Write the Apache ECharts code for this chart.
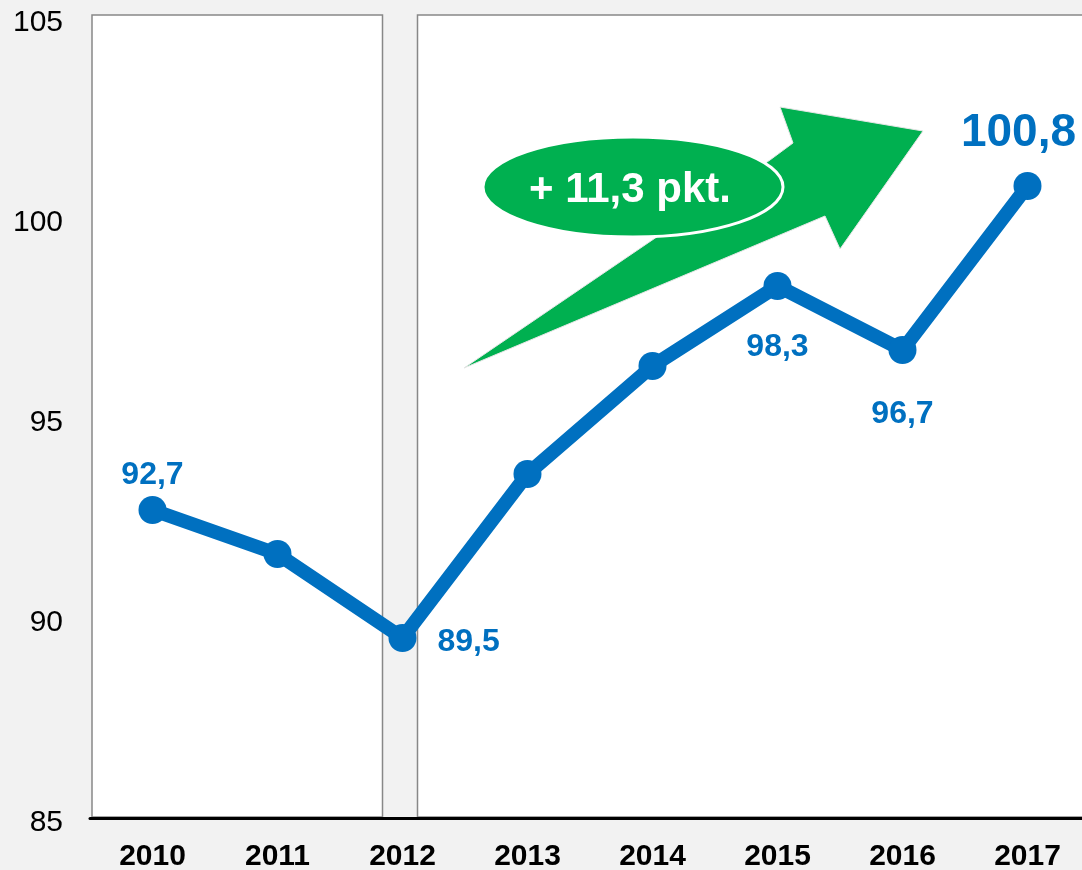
<!DOCTYPE html>
<html>
<head>
<meta charset="utf-8">
<script src="https://cdn.jsdelivr.net/npm/echarts@6/dist/echarts.min.js"></script>
<style>
html,body{margin:0;padding:0;background:#f2f2f2;}
#c{width:1082px;height:870px;}
</style>
</head>
<body>
<div id="c"></div>
<script>
const years = ['2010','2011','2012','2013','2014','2015','2016','2017'];
const values = [92.7, 91.6, 89.5, 93.6, 96.3, 98.3, 96.7, 100.8];
const yTicks = [85, 90, 95, 100, 105];
const annotationText = '+ 11,3 pkt.';

const FONT = '"Liberation Sans", Arial, sans-serif';
const BLUE = '#0070c0';
const GREEN = '#00b050';

const labelCfg = {
  '2010': {show: true, position: 'top', distance: 5, fontSize: 32},
  '2012': {show: true, position: 'right', distance: 21, fontSize: 32, offset: [0, 4]},
  '2015': {show: true, position: 'bottom', distance: 31, fontSize: 32},
  '2016': {show: true, position: 'bottom', distance: 34, fontSize: 32},
  '2017': {show: true, position: 'top', distance: 16, fontSize: 46, offset: [-9, 0]}
};

const seriesData = values.map((v, i) => {
  const cfg = labelCfg[years[i]];
  return {value: v, label: cfg ? Object.assign({}, cfg) : {show: false}};
});

const chart = echarts.init(document.getElementById('c'), null, {renderer: 'canvas'});

const option = {
  backgroundColor: '#f2f2f2',
  animation: false,
  grid: {left: 90, width: 1000, top: 18, bottom: 52, containLabel: false, outerBoundsMode: 'none'},
  xAxis: {
    type: 'category',
    data: years,
    boundaryGap: true,
    axisLine: {show: true, lineStyle: {color: '#000', width: 3}},
    axisTick: {show: false},
    axisLabel: {color: '#000', fontFamily: FONT, fontSize: 30, fontWeight: 'bold', margin: 24},
    splitLine: {show: false}
  },
  yAxis: {
    type: 'value',
    min: yTicks[0],
    max: yTicks[yTicks.length - 1],
    interval: 5,
    axisLine: {show: false},
    axisTick: {show: false},
    splitLine: {show: false},
    axisLabel: {
      color: '#000', fontFamily: FONT, fontSize: 30, margin: 27,
      formatter: '{v|{value}}',
      rich: {v: {color: '#000', fontFamily: FONT, fontSize: 30, padding: [9, 0, 0, 0]}}
    }
  },
  series: [{
    type: 'line',
    data: seriesData,
    z: 10,
    symbol: 'circle',
    symbolSize: 28,
    lineStyle: {color: BLUE, width: 14},
    itemStyle: {color: BLUE},
    label: {
      color: BLUE, fontFamily: FONT, fontWeight: 'bold',
      formatter: p => String(p.value).replace('.', ',')
    }
  }]
};
chart.setOption(option);

// Decorative panels positioned from the axes
const p2010 = chart.convertToPixel({xAxisIndex: 0}, '2010');
const p2012 = chart.convertToPixel({xAxisIndex: 0}, '2012');
const yTop = chart.convertToPixel({yAxisIndex: 0}, 105);
const yBot = chart.convertToPixel({yAxisIndex: 0}, 85);
const bw = 125;
const x0 = p2010 - bw / 2 + 2;

chart.setOption({
  graphic: [
    {type: 'rect', z: -10, shape: {x: x0, y: yTop - 3, width: (p2012 - 20) - x0, height: yBot - yTop + 2},
     style: {fill: '#fff', stroke: '#888', lineWidth: 1.5}},
    {type: 'rect', z: -10, shape: {x: p2012 + 15, y: yTop - 3, width: 800, height: yBot - yTop + 2},
     style: {fill: '#fff', stroke: '#888', lineWidth: 1.5}},
    {type: 'polygon', z: 1,
     shape: {points: [[464,368],[770,160],[793,143],[780,107],[923,131],[840,249],[825,216]]},
     style: {fill: GREEN, stroke: '#e6e6e6', lineWidth: 1}},
    {type: 'ellipse', z: 2, shape: {cx: 633, cy: 187, rx: 150, ry: 50},
     style: {fill: GREEN, stroke: '#fff', lineWidth: 3}},
    {type: 'text', z: 3, x: 630, y: 190,
     style: {text: annotationText, fill: '#fff', font: 'bold 42px ' + FONT, align: 'center', verticalAlign: 'middle'}}
  ]
});
</script>
</body>
</html>
